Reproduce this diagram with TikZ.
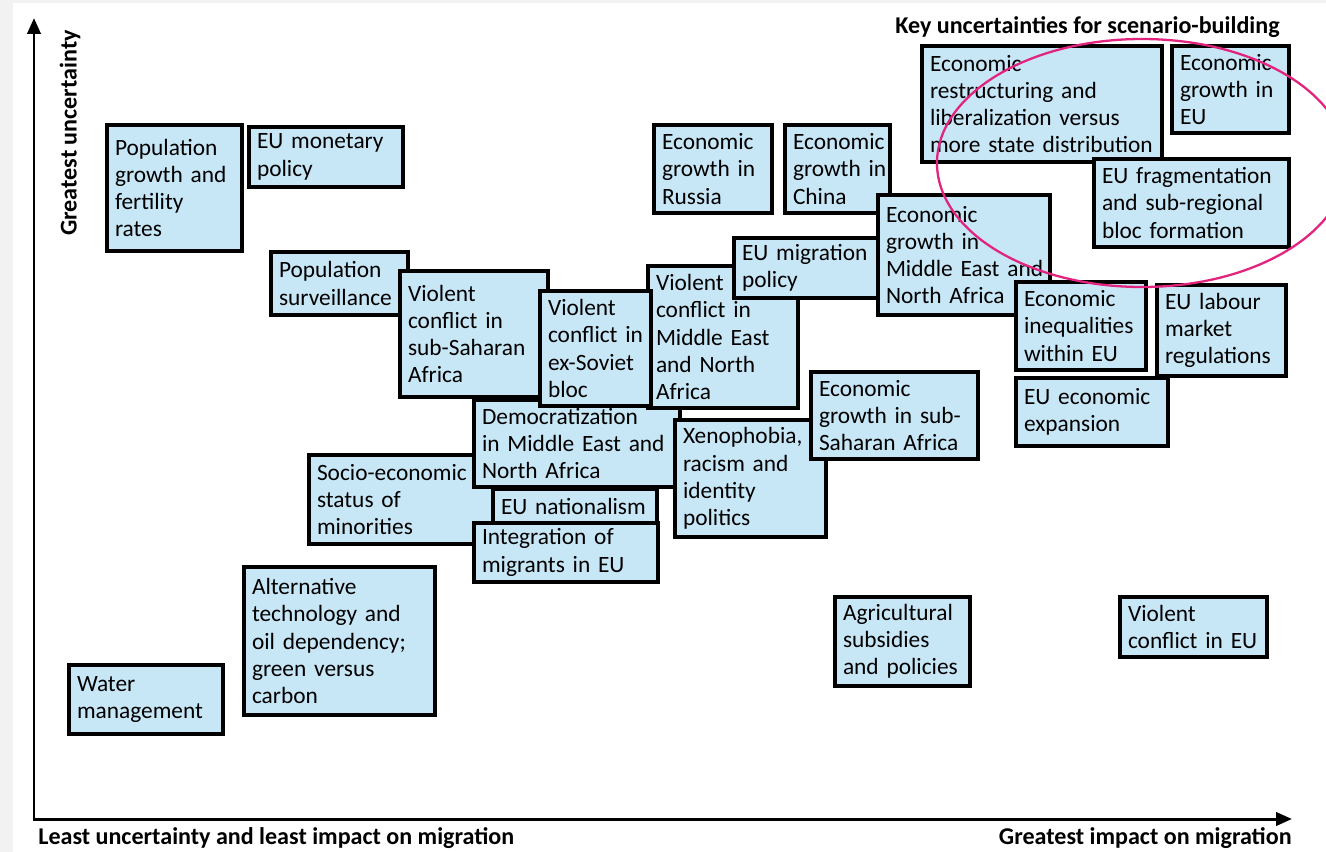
\documentclass[tikz,border=0pt]{standalone}
\usepackage{fontspec}
\setmainfont{Carlito}
\usetikzlibrary{arrows.meta}

\newlength{\px}
\setlength{\px}{0.02cm}
\definecolor{boxblue}{RGB}{200,231,246}
\definecolor{ringpink}{RGB}{226,36,126}
\definecolor{pagegrey}{RGB}{242,242,242}
\newcommand{\boxfont}{\fontsize{13.3}{15.5}\selectfont}
\newcommand{\labelfont}{\fontsize{13.7}{15.5}\selectfont\bfseries}

\tikzset{
  box/.style={draw=black, line width=1.9pt, fill=boxblue, anchor=north west,
    align=left, inner xsep=8\px, inner ysep=0pt, outer sep=0pt, font=\boxfont},
  boxsize/.style 2 args={text width={(#1-16)*\px}, minimum height={#2*\px}},
  axislabel/.style={font=\labelfont, inner sep=0pt},
  axis/.style={line width=1.7pt, {Triangle[length=9pt,width=7.5pt]}-{Triangle[length=9pt,width=7.5pt]}},
}

\begin{document}
\begin{tikzpicture}[x=\px, y=-\px]
    \useasboundingbox (0,0) rectangle (1326,852);
    \fill[pagegrey] (0,0) rectangle (1326,852);
    \fill[white] (13,3) rectangle (1326,852);

    % axes
    \coordinate (ytip) at (34,18);
    \coordinate (xtip) at (1292,819);
    \draw[axis] (ytip) |- (xtip);
    \node[axislabel, rotate=90] (ylab) at (70,133) {Greatest uncertainty};
    \node[axislabel, anchor=base west] (xlableft) at (38,844) {Least uncertainty and least impact on migration};
    \node[axislabel, anchor=base east] (xlabright) at (1292,844) {Greatest impact on migration};
    \node[axislabel, anchor=base east] (keytitle) at (1280,33) {Key uncertainties for scenario-building};

    % factors, back to front
    \node[box, boxsize={135}{126}] (popgrowth) at (107,125) {Population\\growth~and\\fertility\\rates};
    \node[box, boxsize={154}{60}] (monetary) at (249,127) {EU~monetary\\policy};
    \node[box, boxsize={137}{63}] (surveil) at (271,252) {Population\\surveillance};
    \node[box, boxsize={186}{89}] (socio) at (309,455) {Socio-economic\\status~of\\minorities};
    \node[box, boxsize={206}{87}] (democ) at (474,400) {Democratization\\in~Middle~East~and\\North~Africa};
    \node[box, boxsize={148}{126}] (vcssa) at (400,271) {Violent\\conflict~in\\sub-Saharan\\Africa};
    \node[box, boxsize={150}{142}] (vcmena) at (648,266) {Violent\\conflict~in\\Middle~East\\and~North\\Africa};
    \node[box, boxsize={111}{115}] (vcsoviet) at (540,291) {Violent\\conflict~in\\ex-Soviet\\bloc};
    \node[box, boxsize={164}{34}] (nationalism) at (493,489) {EU~nationalism};
    \node[box, boxsize={184}{59}] (integration) at (474,523) {Integration~of\\migrants~in~EU};
    \node[box, boxsize={151}{117}] (xeno) at (675,420) {Xenophobia,\\racism~and\\identity\\politics};
    \node[box, boxsize={167}{87}] (growthssa) at (811,372) {Economic\\growth~in~sub-\\Saharan~Africa};
    \node[box, boxsize={146}{60}] (migpol) at (734,238) {EU~migration\\policy};
    \node[box, boxsize={118}{88}] (russia) at (654,125) {Economic\\growth~in\\Russia};
    \node[box, boxsize={105}{88}] (china) at (785,125) {Economic\\growth~in\\China};
    \node[box, boxsize={172}{120}] (econmena) at (878,195) {Economic\\growth~in\\Middle~East~and\\North~Africa};
    \node[box, boxsize={130}{88}] (inequal) at (1016,282) {Economic\\inequalities\\within~EU};
    \node[box, boxsize={129}{91}] (labour) at (1157,285) {EU~labour\\market\\regulations};
    \node[box, boxsize={152}{68}] (expansion) at (1016,378) {EU~economic\\expansion};
    \node[box, boxsize={240}{116}] (restruct) at (922,46) {Economic\\restructuring~and\\liberalization~versus\\more~state~distribution};
    \node[box, boxsize={195}{88}] (fragment) at (1094,159) {EU~fragmentation\\and~sub-regional\\bloc~formation};
    \node[box, boxsize={117}{87}] (growtheu) at (1172,46) {Economic\\growth~in\\EU};
    \node[box, boxsize={191}{148}] (alttech) at (244,567) {Alternative\\technology~and\\oil~dependency;\\green~versus\\carbon};
    \node[box, boxsize={154}{69}] (water) at (69,665) {Water\\management};
    \node[box, boxsize={135}{89}] (agri) at (835,597) {Agricultural\\subsidies\\and~policies};
    \node[box, boxsize={147}{60}] (vceu) at (1120,597) {Violent\\conflict~in~EU};

    % key uncertainties ring
    \begin{scope}
        \clip (0,0) rectangle (1326,852);
        \draw[ringpink, line width=1.3pt] (1142,163) ellipse [x radius=205\px, y radius=124\px];
    \end{scope}
\end{tikzpicture}
\end{document}
